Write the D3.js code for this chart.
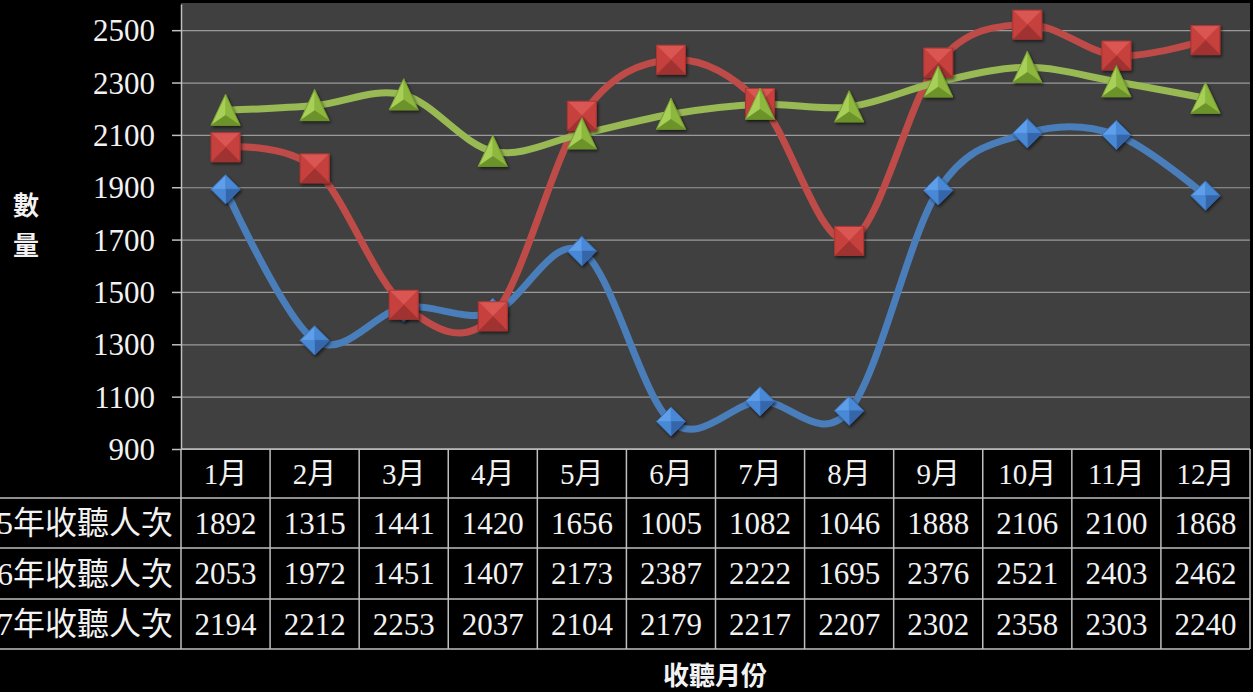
<!DOCTYPE html>
<html>
<head>
<meta charset="utf-8">
<script src="https://cdn.jsdelivr.net/npm/d3@7"></script>
<style>
html,body{margin:0;padding:0;background:#000;}
svg{display:block;}
text{font-family:"Liberation Serif","DejaVu Serif","Noto Sans CJK TC",serif;fill:#f2f2f2;}
</style>
</head>
<body>
<svg id="chart" width="1253" height="692"></svg>
<script>
const months = ["1月","2月","3月","4月","5月","6月","7月","8月","9月","10月","11月","12月"];
const seriesNames = ["105年收聽人次","106年收聽人次","107年收聽人次"];
const values105 = [1892,1315,1441,1420,1656,1005,1082,1046,1888,2106,2100,1868];
const values106 = [2053,1972,1451,1407,2173,2387,2222,1695,2376,2521,2403,2462];
const values107 = [2194,2212,2253,2037,2104,2179,2217,2207,2302,2358,2303,2240];
const yTicks = [900,1100,1300,1500,1700,1900,2100,2300,2500];
const yTitle = "數量";
const xTitle = "收聽月份";

(function () {
const seriesData = [values105, values106, values107];
const colors = [
  {line:"#4A7EBB", light:"#5E9FEA", mid:"#4A88D4", dark:"#3566AA"},
  {line:"#BE4B48", light:"#DA5652", mid:"#C6403D", dark:"#A03230"},
  {line:"#98B954", light:"#A8D058", mid:"#8DB83E", dark:"#6C922B"}
];
const shapes = ["diamond","square","triangle"];

const svg = d3.select("#chart");
const pLeft = 181, pRight = 1250, pTop = 4, pBottom = 449;

const x = d3.scaleBand().domain(months).range([pLeft, pRight]);
const y = d3.scaleLinear().domain([900, 2600]).range([pBottom, pTop]);

svg.append("rect").attr("x", pLeft).attr("y", pTop - 1).attr("width", pRight - pLeft).attr("height", pBottom - pTop + 1).attr("fill", "#404040");

const grid = svg.append("g").attr("transform", `translate(${pLeft},0)`)
  .call(d3.axisLeft(y).tickValues(yTicks).tickSize(-(pRight - pLeft)).tickFormat(""));
grid.select(".domain").remove();
grid.selectAll("line").attr("stroke", "#9a9a9a").attr("stroke-width", 1.2);

const yAxis = svg.append("g").attr("transform", `translate(${pLeft},0)`)
  .call(d3.axisLeft(y).tickValues(yTicks).tickFormat(d3.format("d")).tickSize(9).tickPadding(17).tickSizeOuter(0));
yAxis.select(".domain").attr("stroke", "#bfbfbf").attr("stroke-width", 1.5);
yAxis.selectAll(".tick line").attr("stroke", "#bfbfbf").attr("stroke-width", 1.5);
yAxis.selectAll(".tick text").attr("fill", "#f2f2f2").attr("font-size", 31)
  .attr("font-family", "'Liberation Serif','DejaVu Serif',serif").attr("dy", "0.34em");

const yt = svg.append("text").attr("font-size", 26).attr("font-weight", "bold")
  .attr("font-family", "'Noto Sans CJK TC',sans-serif").attr("text-anchor", "middle");
yt.selectAll("tspan").data(yTitle.split("")).join("tspan")
  .attr("x", 26).attr("y", (d, i) => 215 + i * 40).text(d => d);

const line = d3.line()
  .x((d, i) => x(months[i]) + x.bandwidth() / 2)
  .y(d => y(d))
  .curve(d3.curveCardinal.tension(0));

const defs = svg.append("defs");
const f = defs.append("filter").attr("id", "shadow").attr("x", "-50%").attr("y", "-50%").attr("width", "200%").attr("height", "200%");
f.append("feDropShadow").attr("dx", 1.5).attr("dy", 2).attr("stdDeviation", 1.5).attr("flood-color", "#000").attr("flood-opacity", 0.55);

seriesData.forEach((vals, s) => {
  svg.append("path").datum(vals).attr("d", line)
    .attr("fill", "none").attr("stroke", colors[s].line).attr("stroke-width", 7)
    .attr("stroke-linecap", "round").attr("stroke-linejoin", "round");
});

function facets(shape, cx, cy) {
  if (shape === "square") {
    const s = 14.5;
    const TL=[cx-s,cy-s],TR=[cx+s,cy-s],BR=[cx+s,cy+s],BL=[cx-s,cy+s],C=[cx,cy];
    return [[TL,TR,C,"light"],[TR,BR,C,"mid"],[BR,BL,C,"dark"],[BL,TL,C,"mid"]];
  } else if (shape === "diamond") {
    const h = 14.5;
    const T=[cx,cy-h],R=[cx+h,cy],B=[cx,cy+h],L=[cx-h,cy],C=[cx,cy];
    return [[L,T,C,"light"],[T,R,C,"mid"],[R,B,C,"dark"],[B,L,C,"mid"]];
  } else {
    const T=[cx,cy-16],R=[cx+14.5,cy+15],L=[cx-14.5,cy+15],C=[cx,cy+5];
    return [[L,T,C,"light"],[T,R,C,"mid"],[R,L,C,"dark"]];
  }
}

seriesData.forEach((vals, s) => {
  const g = svg.append("g");
  vals.forEach((v, i) => {
    const cx = x(months[i]) + x.bandwidth() / 2, cy = y(v);
    const fc = facets(shapes[s], cx, cy);
    const mg = g.append("g").attr("filter", "url(#shadow)");
    const outline = fc.map(p => p[0]);
    mg.append("polygon").attr("points", outline.map(p => p.join(",")).join(" ")).attr("fill", colors[s].mid);
    fc.forEach(p => {
      mg.append("polygon").attr("points", [p[0], p[1], p[2]].map(q => q.join(",")).join(" "))
        .attr("fill", colors[s][p[3]]).attr("stroke", colors[s][p[3]]).attr("stroke-width", 0.5);
    });
    mg.append("polygon").attr("points", outline.map(p => p.join(",")).join(" "))
      .attr("fill", "none").attr("stroke", colors[s].dark).attr("stroke-width", 0.8);
  });
});

const rowEdges = [449, 498, 548, 599, 649];
const tbl = svg.append("g");
const lineColor = "#bfbfbf";
rowEdges.forEach((ry, r) => {
  tbl.append("line").attr("x1", r === 0 ? pLeft : 0).attr("x2", pRight).attr("y1", ry).attr("y2", ry)
    .attr("stroke", lineColor).attr("stroke-width", 1.5);
});
const colEdges = months.map(m => x(m)).concat([pRight]);
colEdges.forEach(cx => {
  tbl.append("line").attr("x1", cx).attr("x2", cx).attr("y1", rowEdges[0]).attr("y2", rowEdges[4])
    .attr("stroke", lineColor).attr("stroke-width", 1.5);
});
tbl.selectAll("text.month").data(months).join("text").attr("class", "month")
  .attr("x", d => x(d) + x.bandwidth() / 2).attr("y", (rowEdges[0] + rowEdges[1]) / 2)
  .attr("dy", "0.35em").attr("text-anchor", "middle").attr("font-size", 29).text(d => d);
seriesData.forEach((vals, s) => {
  const cy = (rowEdges[s + 1] + rowEdges[s + 2]) / 2;
  tbl.append("text").attr("x", 173).attr("y", cy).attr("dy", "0.35em").attr("text-anchor", "end")
    .attr("font-size", 32).text(seriesNames[s]);
  tbl.selectAll(null).data(vals).join("text")
    .attr("x", (d, i) => x(months[i]) + x.bandwidth() / 2).attr("y", cy).attr("dy", "0.35em")
    .attr("text-anchor", "middle").attr("font-size", 31).text(d => d);
});

svg.append("text").attr("x", 715).attr("y", 676).attr("dy", "0.35em").attr("text-anchor", "middle")
  .attr("font-size", 26).attr("font-weight", "bold").attr("font-family", "'Noto Sans CJK TC',sans-serif")
  .text(xTitle);
})();
</script>
</body>
</html>
